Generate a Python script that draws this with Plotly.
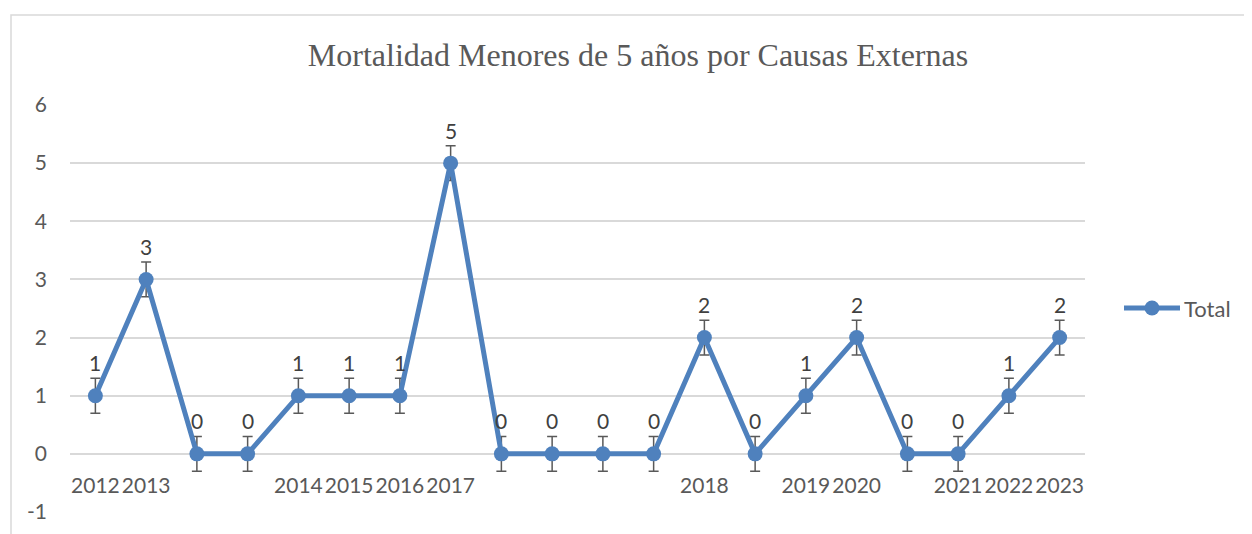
import plotly.graph_objects as go

categories = ["2012", "2013", "", "", "2014", "2015", "2016", "2017", "", "", "", "",
              "2018", "", "2019", "2020", "", "2021", "2022", "2023"]
values = [1, 3, 0, 0, 1, 1, 1, 5, 0, 0, 0, 0, 2, 0, 1, 2, 0, 0, 1, 2]
error_amount = 0.3
y_ticks = [-1, 0, 1, 2, 3, 4, 5, 6]
y_tick_text = ["-1", "0", "1", "2", "3", "4", "5", "6"]
title_text = "Mortalidad Menores de 5 años por Causas Externas"
series_name = "Total"

x_idx = list(range(len(values)))
tick_pos = [i for i, c in enumerate(categories) if c]
tick_txt = [c for c in categories if c]

BLUE = "#4F81BD"
GRAY = "#595959"
FONT = "Lato"
OFF = 8  # page body margin

fig = go.Figure()
fig.add_trace(go.Scatter(
    x=x_idx, y=values, name=series_name, mode="lines+markers",
    line=dict(color=BLUE, width=5),
    marker=dict(color=BLUE, size=15),
    error_y=dict(type="constant", value=error_amount, color=GRAY, thickness=1.5, width=5),
    showlegend=False,
))

for i, v in zip(x_idx, values):
    fig.add_annotation(x=i, y=v, text=str(v), showarrow=False, yshift=33,
                       font=dict(family=FONT, size=21, color="#404040"))

W, H = 1252 - OFF, 534 - OFF
L, R, T, B = 70 - OFF, 1085 - OFF, 105 - OFF, 512 - OFF
pw, ph = R - L, B - T

def px(xp):
    return (xp - OFF - L) / pw

def py(yp):
    return (B - (yp - OFF)) / ph

# chart border (left and top visible)
fig.add_shape(type="path", xref="paper", yref="paper",
              path=f"M {px(11)},{py(545)} L {px(11)},{py(15)} L {px(1270)},{py(15)}",
              line=dict(color="#D9D9D9", width=1.5))

# custom legend
ly = py(308)
fig.add_shape(type="line", xref="paper", yref="paper", x0=px(1124), x1=px(1180), y0=ly, y1=ly,
              line=dict(color=BLUE, width=5))
fig.add_shape(type="circle", xref="paper", yref="paper",
              x0=px(1152 - 7.5), x1=px(1152 + 7.5), y0=py(308 + 7.5), y1=py(308 - 7.5),
              fillcolor=BLUE, line=dict(color=BLUE, width=0))
fig.add_annotation(xref="paper", yref="paper", x=px(1182), y=ly, xanchor="left", yanchor="middle",
                   text=series_name, showarrow=False,
                   font=dict(family=FONT, size=22, color=GRAY))

fig.update_layout(
    width=W, height=H,
    margin=dict(l=L, r=W - R, t=T, b=H - B, pad=0),
    paper_bgcolor="white", plot_bgcolor="white",
    title=dict(text=title_text, x=(638 - OFF) / W, xanchor="center", xref="container",
               y=1 - (55 - OFF) / H, yanchor="middle", yref="container",
               font=dict(family="Liberation Serif", size=32, color=GRAY)),
    showlegend=False,
    xaxis=dict(range=[-0.5, len(values) - 0.5], tickmode="array", tickvals=tick_pos,
               ticktext=tick_txt, showgrid=False, zeroline=False, showline=False,
               anchor="free", position=1 / 7, ticks="", ticklabelstandoff=17,
               tickfont=dict(family=FONT, size=21, color=GRAY)),
    yaxis=dict(range=[-1, 6], tickmode="array", tickvals=y_ticks, ticktext=y_tick_text,
               showgrid=True, gridcolor="#D9D9D9",
               gridwidth=1.5, zeroline=False, showline=False, ticks="",
               ticklabelstandoff=22, tickfont=dict(family=FONT, size=21, color=GRAY)),
)

fig.write_html("out.html")
